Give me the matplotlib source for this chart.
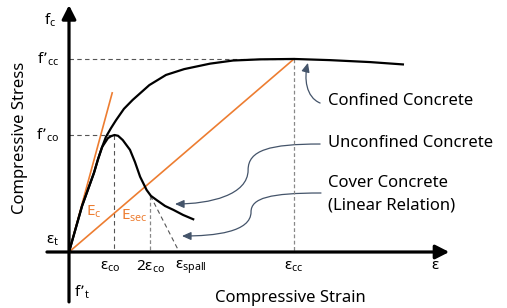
import matplotlib.pyplot as plt
from matplotlib.path import Path
from matplotlib.patches import FancyArrowPatch

plt.rcParams['font.family'] = ['Noto Sans', 'DejaVu Sans']

# strain (arbitrary units, eps_co = 2) and stress (f'co = 30)
conf_strain = [0, 0.58, 1.11, 1.29, 1.47, 1.64, 1.87, 2.09, 2.44, 2.83, 3.57, 4.31,
               5.12, 6.27, 7.29, 8.49, 10.0, 11.6, 13.38, 14.84]
conf_stress = [0, 11.8, 20.3, 23.8, 26.9, 29.5, 31.8, 33.8, 36.7, 39.0, 42.8, 45.4,
               46.9, 48.3, 49.1, 49.4, 49.5, 49.2, 48.7, 48.1]

unconf_strain = [0, 0.58, 1.11, 1.29, 1.47, 1.73, 1.87, 2.02, 2.18, 2.39, 2.53, 2.71,
                 2.93, 3.16, 3.45, 3.64, 3.90, 4.27, 4.64, 5.07, 5.52]
unconf_stress = [0, 11.8, 20.3, 23.8, 26.9, 29.2, 29.7, 30.0, 29.8, 28.7, 27.6, 26.2,
                 23.1, 19.3, 15.9, 14.4, 13.3, 11.8, 10.8, 9.5, 8.4]

eps_co, eps_2co, eps_spall, eps_cc = 2.02, 3.62, 4.9, 10.0
f_co, f_cc, f_2co = 30.0, 49.5, 14.4
ec_end = (1.92, 40.8)

orange = '#ED7D31'
navy = '#44546A'

fig = plt.figure(figsize=(5.07, 3.08), dpi=100)
ax = fig.add_axes([0, 0, 1, 1])
ax.set_xlim(-3.067, 19.467)
ax.set_ylim(-14.36, 64.62)
ax.axis('off')

# reference dashed lines
dash = dict(color='#555555', lw=0.8, ls=(0, (4, 3)))
ax.plot([0, eps_cc], [f_cc, f_cc], **dash)
ax.plot([0, eps_co], [f_co, f_co], **dash)
ax.plot([eps_co, eps_co], [f_co, 0], **dash)
ax.plot([eps_2co, eps_2co], [f_2co, 0], color='#888888', lw=0.9, ls=(0, (3, 2)))
ax.plot([eps_cc, eps_cc], [f_cc, 0], color='#888888', lw=0.9, ls=(0, (3, 2)))
ax.plot([eps_2co, eps_spall], [f_2co, 0], **dash)

# moduli
ax.plot([0, ec_end[0]], [0, ec_end[1]], color=orange, lw=1.2)
ax.plot([0, eps_cc], [0, f_cc], color=orange, lw=1.2)

# curves
ax.plot(unconf_strain, unconf_stress, color='black', lw=1.6, solid_joinstyle='round')
ax.plot(conf_strain, conf_stress, color='black', lw=1.6, solid_joinstyle='round')

# axes with arrows
ap = dict(arrowstyle='-|>,head_length=0.55,head_width=0.28', lw=2.3, color='black',
          mutation_scale=15, shrinkA=0, shrinkB=0)
ax.annotate('', xy=(0, 63.3), xytext=(0, -12.8), arrowprops=ap)
ax.annotate('', xy=(16.9, 0), xytext=(-0.98, 0), arrowprops=ap)

# callout arrows
C = Path.CURVE4
callouts = [
    [(11.16, 38.2), (10.53, 39.7), (10.44, 44.6), (10.62, 48.5)],
    [(11.16, 27.69), (8.93, 27.69), (7.96, 26.15), (7.96, 21.03),
     (7.96, 14.62), (6.27, 12.31), (4.71, 12.31)],
    [(11.2, 15.13), (8.93, 15.13), (8.09, 13.85), (8.09, 10.26),
     (8.09, 5.13), (6.49, 4.10), (5.02, 4.10)],
]
for verts in callouts:
    codes = [Path.MOVETO] + [C] * (len(verts) - 1)
    ax.add_patch(FancyArrowPatch(path=Path(verts, codes),
                                 arrowstyle='-|>,head_length=0.45,head_width=0.2',
                                 mutation_scale=12, lw=0.9, color=navy))

fs = 11
r = r'$\mathregular{%s}$'
ax.text(-0.84, 59.5, r % 'f_c', fontsize=fs, ha='center', va='center')
ax.text(-0.45, f_cc, r % 'f’_{cc}', fontsize=fs, ha='right', va='center')
ax.text(-0.45, f_co, r % 'f’_{co}', fontsize=fs, ha='right', va='center')
ax.text(-0.45, 3.0, r % 'ε_t', fontsize=fs, ha='right', va='center')
ax.text(0.2, -10.3, r % 'f’_t', fontsize=fs, ha='left', va='center')

ty = -3.8
ax.text(1.82, ty, r % 'ε_{co}', fontsize=fs, ha='center', va='center')
ax.text(eps_2co, ty, r % '2ε_{co}', fontsize=fs, ha='center', va='center')
ax.text(4.71, ty, r % 'ε_{spall}', fontsize=fs, ha='left', va='center')
ax.text(eps_cc - 0.03, ty, r % 'ε_{cc}', fontsize=fs, ha='center', va='center')
ax.text(16.27, -3.4, 'ε', fontsize=fs, ha='center', va='center')

ax.text(0.75, 10.2, r % 'E_c', fontsize=fs, ha='left', va='center', color=orange)
ax.text(2.3, 9.2, r % 'E_{sec}', fontsize=fs, ha='left', va='center', color=orange)

ax.text(9.82, -11.8, 'Compressive Strain', fontsize=12, ha='center', va='center')
ax.text(-2.2, 29.2, 'Compressive Stress', fontsize=12, ha='center', va='center',
        rotation=90)

lx, lfs = 11.51, 12
ax.text(lx, 38.7, 'Confined Concrete', fontsize=lfs, ha='left', va='center')
ax.text(lx, 28.0, 'Unconfined Concrete', fontsize=lfs, ha='left', va='center')
ax.text(lx, 17.7, 'Cover Concrete', fontsize=lfs, ha='left', va='center')
ax.text(lx, 12.0, '(Linear Relation)', fontsize=lfs, ha='left', va='center')

fig.savefig('out.png', dpi=100)
